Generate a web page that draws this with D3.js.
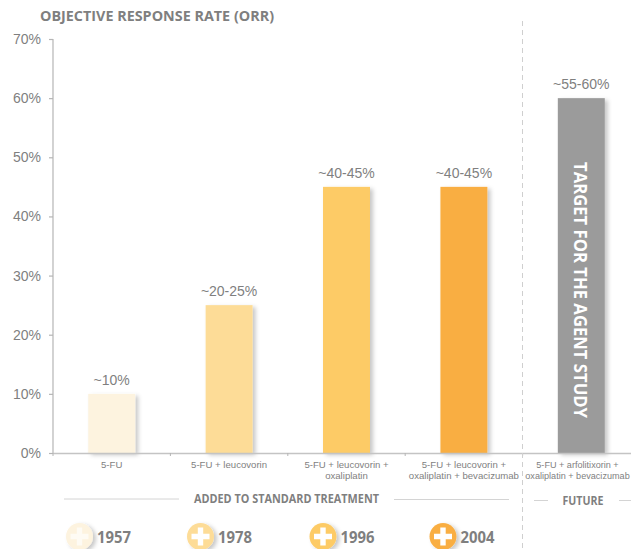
<!DOCTYPE html>
<html><head><meta charset="utf-8">
<script src="https://cdn.jsdelivr.net/npm/d3@7"></script>
<style>html,body{margin:0;padding:0;background:#fff}svg{display:block}</style>
</head><body><svg id="c" width="631" height="549"></svg>
<script>
const categories=[["5-FU"],["5-FU + leucovorin"],["5-FU + leucovorin +","oxaliplatin"],["5-FU + leucovorin +","oxaliplatin + bevacizumab"],["5-FU + arfolitixorin +","oxaliplatin + bevacizumab"]];
const values=[10,25,45,45,60];
const valueLabels=["~10%","~20-25%","~40-45%","~40-45%","~55-60%"];
const barColors=["#fdf3df","#fddc97","#fdcb66","#f9ae43","#9b9b9b"];
const yTicks=[0,10,20,30,40,50,60,70];
const years=["1957","1978","1996","2004"];
const yearColors=["#fdf3df","#fddc97","#fdcb66","#f9ae43"];
const yearX=[79.5,200.5,323,443];
const TITLE_FONT="'Open Sans', Lato, sans-serif", BODY="'Liberation Sans', Arial, sans-serif";

const svg=d3.select("#c");
const defs=svg.append("defs");
const f=defs.append("filter").attr("id","sh").attr("x","-30%").attr("y","-30%").attr("width","170%").attr("height","170%");
f.append("feDropShadow").attr("dx",3).attr("dy",2).attr("stdDeviation",2).attr("flood-color","#000").attr("flood-opacity",0.22);

const y=d3.scaleLinear().domain([0,70]).range([453,39]);
const x=d3.scaleBand().domain(d3.range(categories.length)).range([53,640]).paddingInner(0.6).paddingOuter(0.3);

svg.append("text").attr("x",40).attr("y",21).attr("font-family",TITLE_FONT).attr("font-weight",700).attr("font-size",14.5).attr("fill","#7f7f7f").attr("textLength",234).attr("lengthAdjust","spacingAndGlyphs").text("OBJECTIVE RESPONSE RATE (ORR)");

const yAxis=svg.append("g").attr("transform","translate(53,0)").call(d3.axisLeft(y).tickValues(yTicks).tickFormat(d=>d+"%").tickSize(4).tickPadding(8));
yAxis.selectAll("path,line").attr("stroke","#b5b5b5").attr("stroke-width",1.2);
yAxis.select("path").attr("d","M0,39V453");
yAxis.selectAll("text").attr("font-family",BODY).attr("font-size",14).attr("fill","#7f7f7f");

svg.append("g").selectAll("rect").data(values).join("rect")
 .attr("x",(d,i)=>x(i)).attr("y",d=>y(d)).attr("width",x.bandwidth()).attr("height",d=>y(0)-y(d))
 .attr("fill",(d,i)=>barColors[i]).attr("filter","url(#sh)");

svg.append("g").selectAll("text").data(valueLabels).join("text")
 .attr("x",(d,i)=>x(i)+x.bandwidth()/2).attr("y",(d,i)=>y(values[i])-9)
 .attr("text-anchor","middle").attr("font-family",BODY).attr("font-size",14).attr("fill","#7f7f7f").text(d=>d);

// x axis baseline and ticks
const tickPos=d3.range(5).map(i=>x(i)-x.bandwidth()*0.75);
svg.append("line").attr("x1",53).attr("x2",631).attr("y1",453.5).attr("y2",453.5).attr("stroke","#c4c4c4").attr("stroke-width",1.5);
svg.append("g").selectAll("line").data(tickPos).join("line")
 .attr("x1",d=>d).attr("x2",d=>d).attr("y1",453).attr("y2",456).attr("stroke","#b5b5b5");

const cat=svg.append("g").selectAll("text").data(categories).join("text")
 .attr("text-anchor","middle").attr("font-family",BODY).attr("font-size",(d,i)=>i==4?9.1:9.6).attr("fill","#7f7f7f");
cat.each(function(lines,i){
  const t=d3.select(this);
  const cx=i==4?577.5:x(i)+x.bandwidth()/2;
  lines.forEach((l,j)=>t.append("tspan").attr("x",cx).attr("y",468+j*11.3).text(l));
});

// future divider
svg.append("line").attr("x1",522.5).attr("x2",522.5).attr("y1",21).attr("y2",549).attr("stroke","#cfcfcf").attr("stroke-dasharray","5 4");

// target text
const bc=x(4)+x.bandwidth()/2;
svg.append("text").attr("transform",`translate(${bc},290) rotate(90)`).attr("text-anchor","middle").attr("dominant-baseline","central")
 .attr("font-family",TITLE_FONT).attr("font-weight",700).attr("font-size",18.5).attr("fill","#fff").attr("textLength",256).attr("lengthAdjust","spacingAndGlyphs").text("TARGET FOR THE AGENT STUDY");

// group captions
const cap=[["ADDED TO STANDARD TREATMENT",286.5,499,185],["FUTURE",583,501,41]];
svg.append("g").selectAll("text").data(cap).join("text")
 .attr("x",d=>d[1]).attr("y",d=>d[2]+4).attr("text-anchor","middle").attr("font-family",TITLE_FONT).attr("font-weight",700).attr("font-size",11.5).attr("fill","#7f7f7f").attr("textLength",d=>d[3]).attr("lengthAdjust","spacingAndGlyphs").text(d=>d[0]);
const rules=[[64,179,499],[394,509,499.5],[534,548,500.5],[619,631,500.5]];
svg.append("g").selectAll("line").data(rules).join("line")
 .attr("x1",d=>d[0]).attr("x2",d=>d[1]).attr("y1",d=>d[2]).attr("y2",d=>d[2]).attr("stroke","#d4d4d4").attr("stroke-width",1);

// year legend
const lg=svg.append("g").selectAll("g").data(years).join("g").attr("transform",(d,i)=>`translate(${yearX[i]},536.5)`);
lg.append("circle").attr("r",13.5).attr("fill",(d,i)=>yearColors[i]).attr("filter","url(#sh)");
lg.append("path").attr("d","M-2.7,-9V-2.7H-9V2.7H-2.7V9H2.7V2.7H9V-2.7H2.7V-9Z").attr("fill","#fff").attr("opacity",(d,i)=>i==0?0.65:1);
lg.append("text").attr("x",17.5).attr("y",6).attr("font-family",TITLE_FONT).attr("font-weight",700).attr("font-size",16.5).attr("fill","#7f7f7f").attr("textLength",34).attr("lengthAdjust","spacingAndGlyphs").text(d=>d);
</script></body></html>
